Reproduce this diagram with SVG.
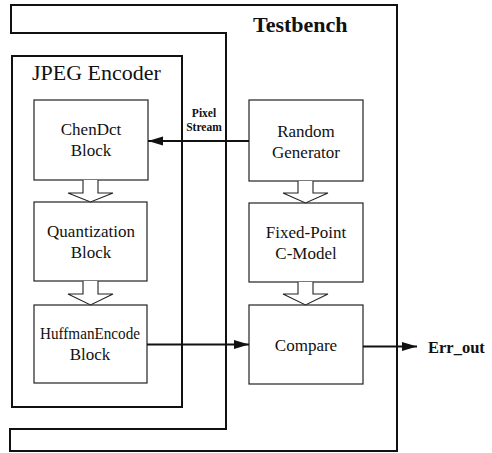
<svg xmlns="http://www.w3.org/2000/svg" width="492" height="453" viewBox="0 0 492 453">
<style>
.frame{fill:none;stroke:#111;stroke-width:2}
.box{fill:#fff;stroke:#222;stroke-width:1.2}
.hol{fill:#fff;stroke:#222;stroke-width:1.1;stroke-linejoin:miter}
.lbl{font-family:"Liberation Serif","Times New Roman",serif;font-size:17px;fill:#111;text-anchor:middle}
.title{font-family:"Liberation Serif","Times New Roman",serif;fill:#111}
.conn{fill:none;stroke:#111;stroke-width:2}
</style>
<defs>
<marker id="ah" markerUnits="userSpaceOnUse" markerWidth="16" markerHeight="10" refX="15" refY="4.5" orient="auto">
<path d="M0,0 L15,4.5 L0,9 Z" fill="#111"/>
</marker>
</defs>
<rect width="492" height="453" fill="#fff"/>
<g id="testbench">
<path class="frame" d="M11,5 H397 V451 H10 V429 H226 V33 H11 Z"/>
<text class="title" x="253" y="32" font-size="22" font-weight="bold">Testbench</text>
</g>
<g id="jpeg-encoder">
<rect class="frame" x="12" y="56" width="170" height="351"/>
<text class="title" x="32" y="80" font-size="22">JPEG Encoder</text>
</g>
<g id="chendct">
<rect class="box" x="34" y="100" width="114" height="80"/>
<text class="lbl" x="91" y="135">ChenDct</text>
<text class="lbl" x="91" y="156">Block</text>
</g>
<g id="quantization">
<rect class="box" x="34" y="202" width="113" height="79"/>
<text class="lbl" x="91" y="237">Quantization</text>
<text class="lbl" x="91" y="258">Block</text>
</g>
<g id="huffman">
<rect class="box" x="34" y="305" width="113" height="78"/>
<text class="lbl" x="90" y="339" textLength="100" lengthAdjust="spacingAndGlyphs">HuffmanEncode</text>
<text class="lbl" x="90" y="360">Block</text>
</g>
<g id="random">
<rect class="box" x="249" y="100" width="114" height="81"/>
<text class="lbl" x="306" y="137">Random</text>
<text class="lbl" x="306" y="158">Generator</text>
</g>
<g id="fixedpoint">
<rect class="box" x="249" y="203" width="114" height="79"/>
<text class="lbl" x="306" y="238">Fixed-Point</text>
<text class="lbl" x="306" y="259">C-Model</text>
</g>
<g id="compare">
<rect class="box" x="249" y="305" width="114" height="79"/>
<text class="lbl" x="306" y="351">Compare</text>
</g>
<g id="connectors">
<path class="hol" d="M83,180 V193 H68 L90.5,202 L113,193 H98 V180"/>
<path class="hol" d="M83,281 V294 H68 L90.5,305 L113,294 H98 V281"/>
<path class="hol" d="M298,181 V193 H283 L305.5,203 L328,193 H313 V181"/>
<path class="hol" d="M298,282 V294 H283 L305.5,305 L328,294 H313 V282"/>
<line class="conn" x1="249" y1="141" x2="148" y2="141" stroke-width="1.6" marker-end="url(#ah)"/>
<line class="conn" x1="147" y1="344.5" x2="249" y2="344.5" marker-end="url(#ah)"/>
<line class="conn" x1="363" y1="346.5" x2="417" y2="346.5" marker-end="url(#ah)"/>
<text class="title" x="204" y="117" font-size="11.5" font-weight="bold" text-anchor="middle">Pixel</text>
<text class="title" x="204" y="131" font-size="11.5" font-weight="bold" text-anchor="middle">Stream</text>
<text class="title" x="428" y="353" font-size="16.5" font-weight="bold">Err_out</text>
</g>
</svg>
